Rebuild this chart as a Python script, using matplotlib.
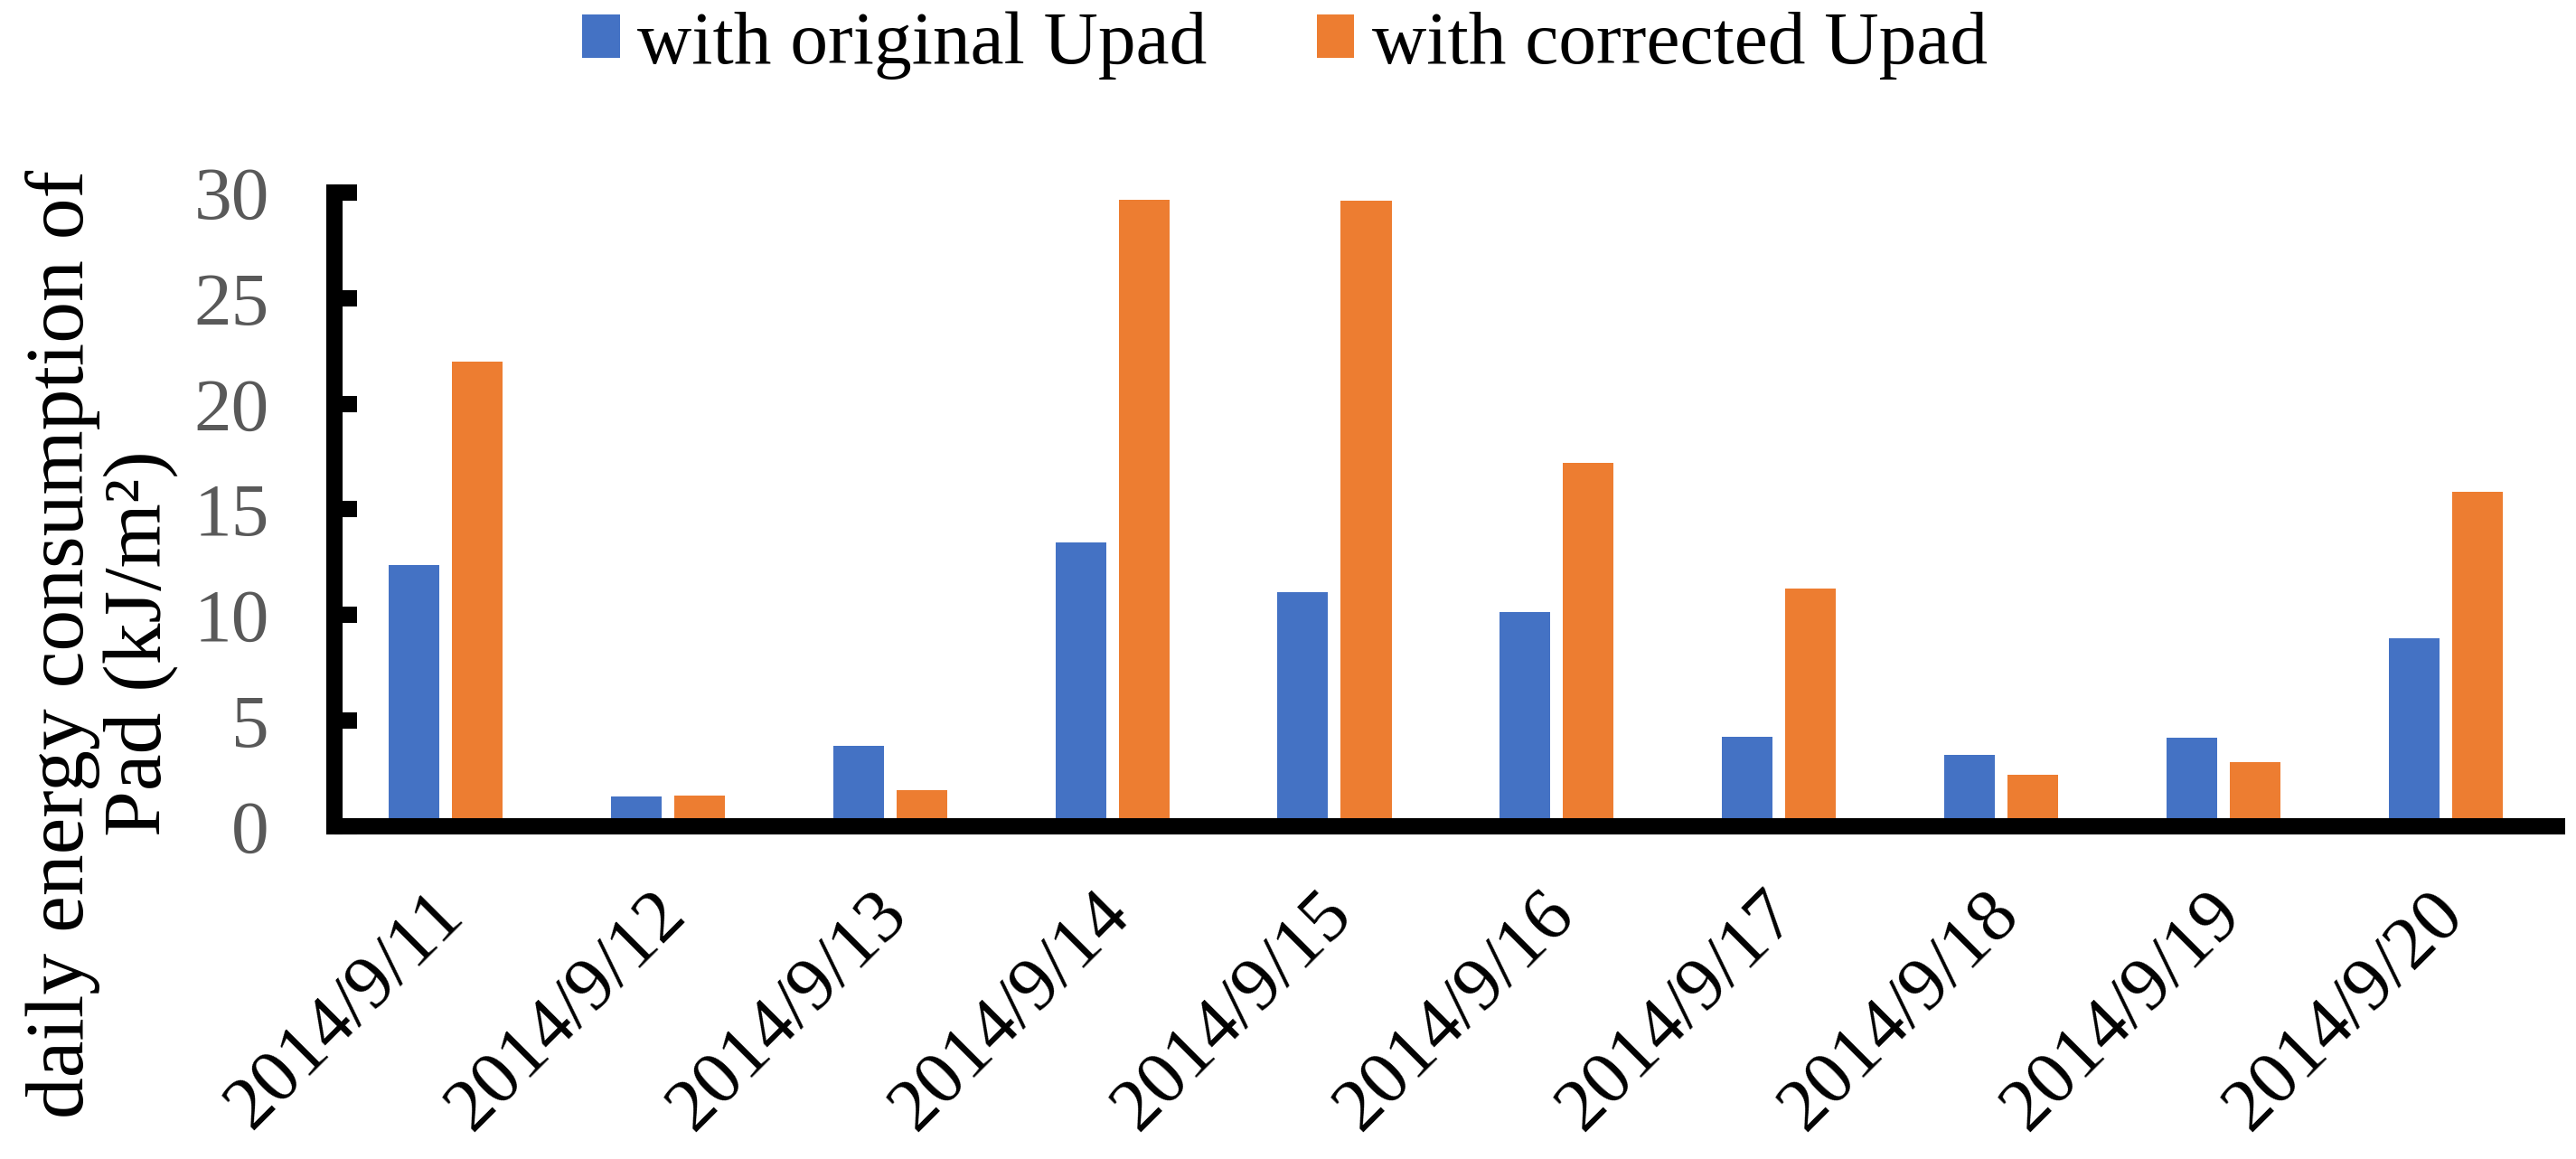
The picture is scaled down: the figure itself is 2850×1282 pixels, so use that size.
import numpy as np
import matplotlib
matplotlib.use("Agg")
import matplotlib.pyplot as plt
from matplotlib.transforms import ScaledTranslation

# data
dates = ["2014/9/11", "2014/9/12", "2014/9/13", "2014/9/14", "2014/9/15",
         "2014/9/16", "2014/9/17", "2014/9/18", "2014/9/19", "2014/9/20"]
original = [12.37, 1.41, 3.80, 13.42, 11.08, 10.15, 4.23, 3.38, 4.19, 8.90]
corrected = [22.0, 1.45, 1.70, 29.65, 29.6, 17.2, 11.24, 2.43, 3.03, 15.83]

labels = ["with original Upad", "with corrected Upad"]
colors = ["#4472C4", "#ED7D31"]

plt.rcParams["font.family"] = ["Liberation Serif", "DejaVu Serif"]

fig = plt.figure(figsize=(28.5, 12.82), dpi=100)
ax = fig.add_axes([0.1298, 0.2871, 0.8628, 0.5468])

x = np.arange(len(dates))
w = 0.228
off = 0.1425
ax.bar(x - off, original, w, color=colors[0], label=labels[0])
ax.bar(x + off, corrected, w, color=colors[1], label=labels[1])

ax.set_xlim(-0.5, len(dates) - 0.5)
ax.set_ylim(0, 30)
ax.set_yticks(np.arange(0, 31, 5))

for s in ["top", "right"]:
    ax.spines[s].set_visible(False)
for s in ["left", "bottom"]:
    ax.spines[s].set_linewidth(13)
    ax.spines[s].set_color("black")

ax.tick_params(axis="y", direction="in", length=18, width=13, pad=52,
               labelsize=60, labelcolor="#595959", color="black")
ax.tick_params(axis="x", length=0, pad=0, labelsize=60, labelcolor="black")

ax.set_xticks(x)
ax.set_xticklabels(dates, rotation=45, ha="right", va="center",
                   rotation_mode="anchor")
shift = ScaledTranslation(0.08, -0.86, fig.dpi_scale_trans)
for lab in ax.get_xticklabels():
    lab.set_transform(lab.get_transform() + shift)

ax.set_ylabel("daily energy consumption of\nPad (kJ/m²)", fontsize=66,
              va="center", ha="center", linespacing=1.05)
ax.yaxis.set_label_coords(-0.1048, 0.288)

fig.legend(loc="center", bbox_to_anchor=(0.4987, 0.961), ncol=2,
           frameon=False, fontsize=60, handlelength=0.5, handleheight=0.52,
           handletextpad=0.23, columnspacing=1.46, borderpad=0)

fig.savefig("out.png", dpi=100)
